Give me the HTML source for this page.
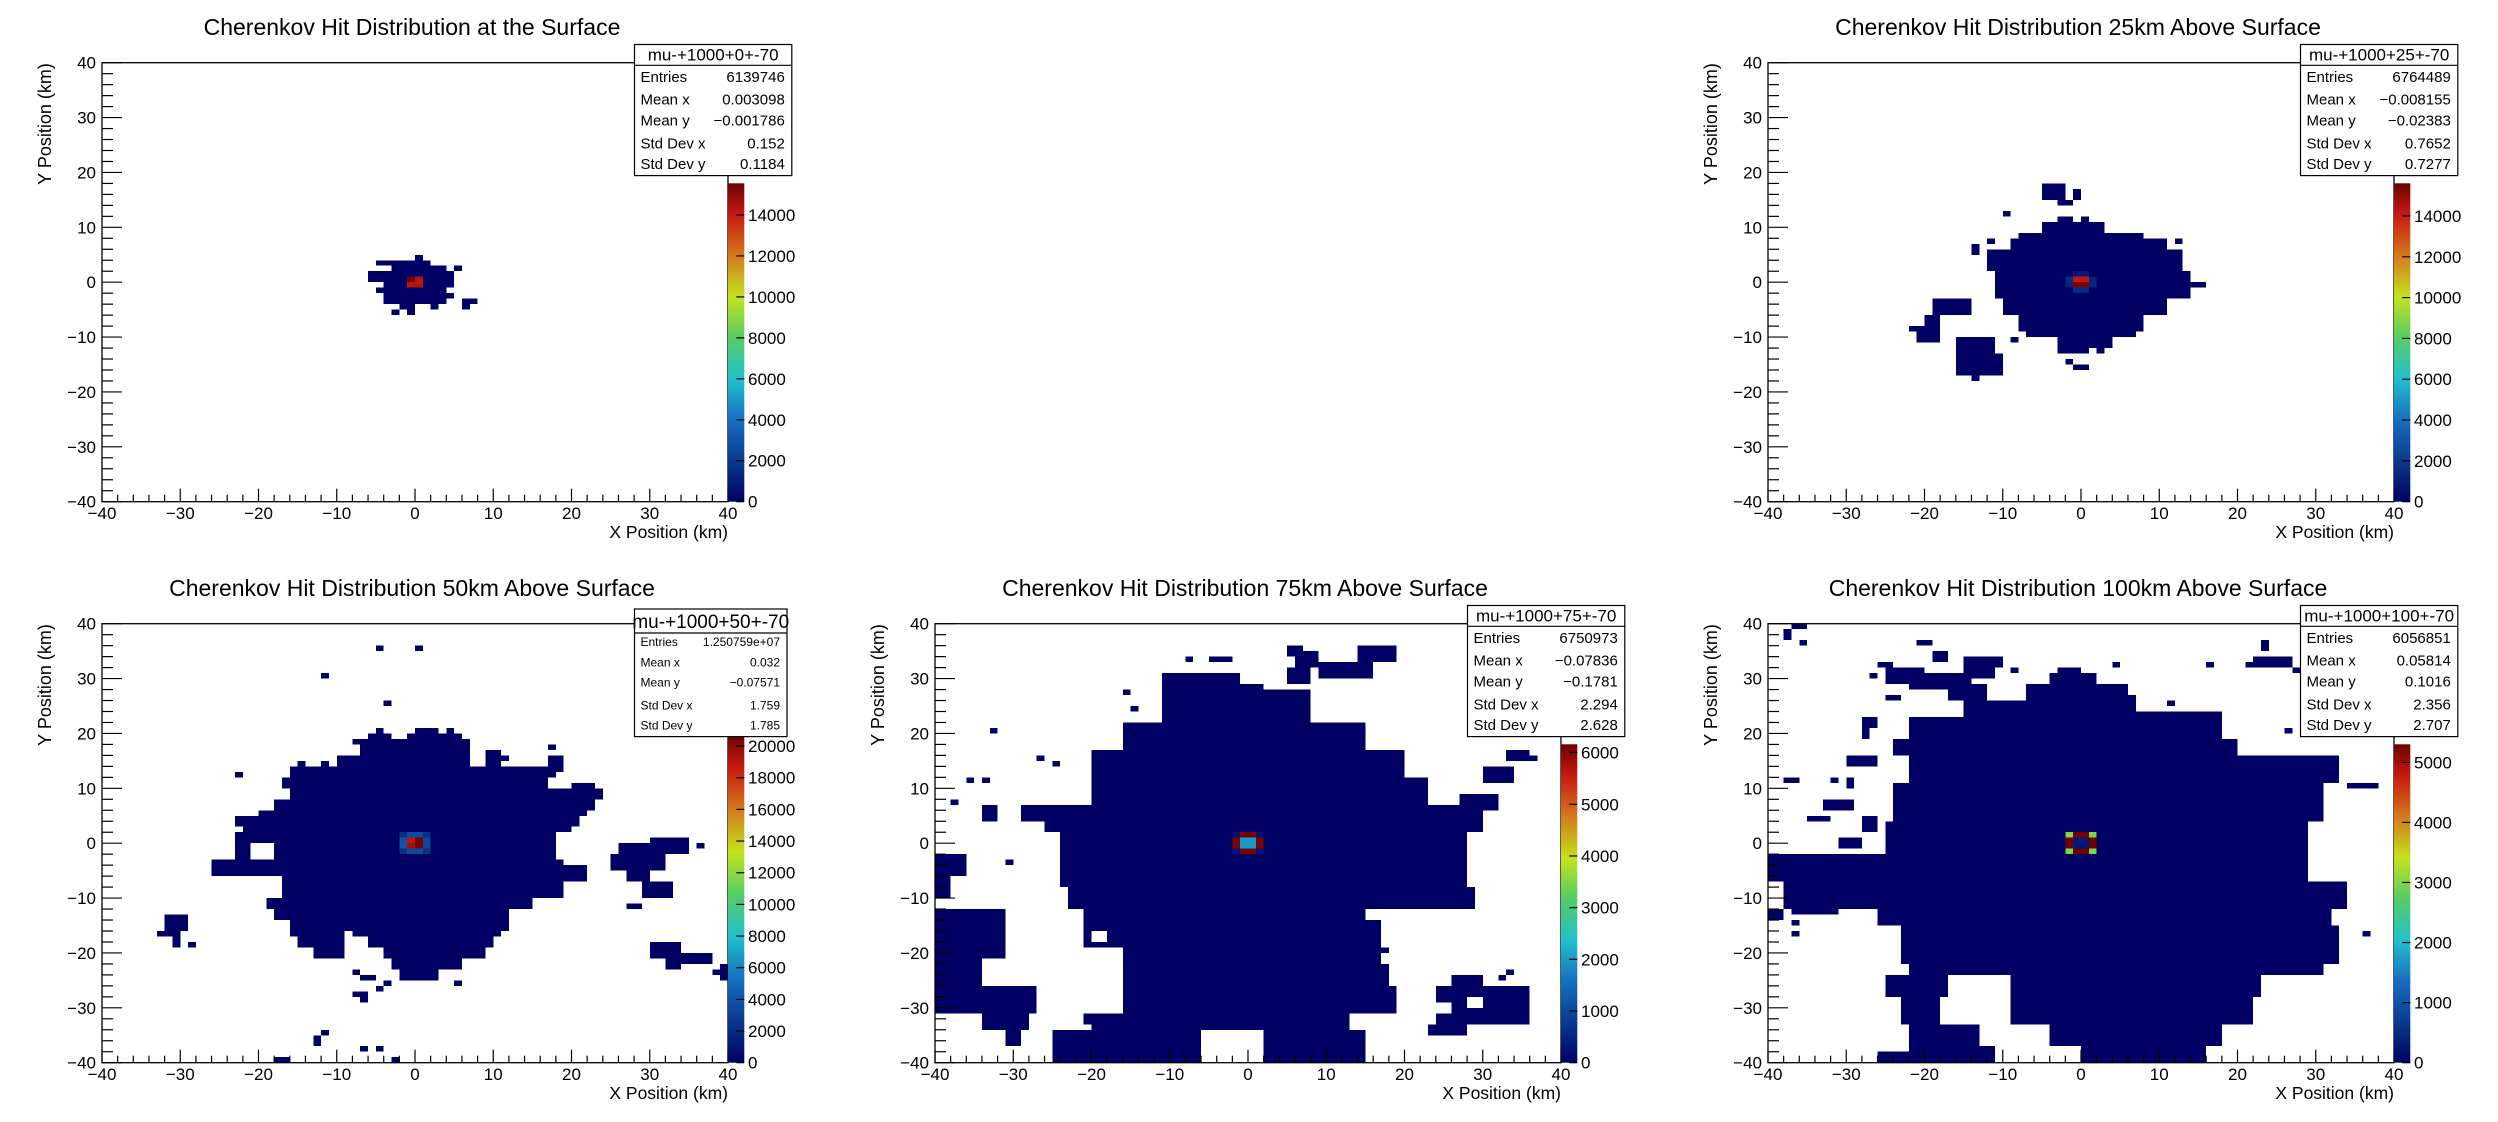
<!DOCTYPE html>
<html><head><meta charset="utf-8"><title>Cherenkov Hit Distributions</title>
<style>
html,body{margin:0;padding:0;background:#fff;}
svg{display:block;font-family:"Liberation Sans",Arial,sans-serif;}
</style></head>
<body>
<svg id="root" width="2498" height="1122" viewBox="0 0 2498 1122" xmlns="http://www.w3.org/2000/svg"></svg>
<script>
// ---------- DATA (bins of 1 km; rects are [x0,x1,y0,y1] in km of low-count bins) ----------
const surfaceRects = [[0,1,4,5],[-5,2,3,4],[-3,4,2,3],[5,6,2,3],[-6,5,0,2],[-4,5,-1,0],[-5,4,-2,-1],[-4,5,-3,-2],[-4,4,-4,-3],[6,8,-4,-3],[-2,0,-5,-4],[2,3,-5,-4],[6,7,-5,-4],[-3,-2,-6,-5],[-1,0,-6,-5]];
const surfaceHot = [[-1,0,15500],[0,0,14300],[-1,-1,14300],[0,-1,14300]];
const surfaceZTicks = [0,2000,4000,6000,8000,10000,12000,14000];
const surfaceZMax = 15546;
const surfaceStats = ["6139746","0.003098","\u22120.001786","0.152","0.1184"];

const km25Rects = [[-8,8,8,9],[-9,11,6,8],[-12,13,2,6],[-11,14,-3,2],[14,16,-1,0],[-10,11,-6,-3],[-8,8,-9,-6],[-7,7,-10,-9],[-3,4,-12,-10],[-3,1,-13,-12],[2,3,-13,-12],[-5,3,9,11],[-3,-1,11,12],[0,1,11,12],[-5,-2,15,18],[-1,0,15,17],[-3,-1,14,15],[-10,-9,12,13],[-14,-13,5,7],[-12,-11,7,8],[12,13,7,8],[-19,-14,-6,-3],[-20,-18,-8,-6],[-21,-18,-11,-8],[-22,-21,-9,-8],[-16,-11,-13,-10],[-16,-10,-17,-13],[-14,-13,-18,-17],[-1,1,-16,-15],[-2,-1,-15,-14],[-9,-8,-11,-10]];
const km25Hot = [[-1,0,14200],[0,0,14200],[-1,-1,15400],[0,-1,15400],[-2,0,1500],[1,0,1200],[-2,-1,1200],[1,-1,1200],[-1,-2,1500],[0,-2,1500],[-1,1,800],[0,1,800]];
const km25ZTicks = [0,2000,4000,6000,8000,10000,12000,14000];
const km25ZMax = 15600;
const km25Stats = ["6764489","\u22120.008155","\u22120.02383","0.7652","0.7277"];

const km50Rects = [[-5,-4,20,21],[0,3,20,21],[4,5,20,21],[-6,-3,19,20],[-1,6,19,20],[-8,7,18,19],[-7,7,16,18],[9,11,16,17],[-10,7,14,16],[9,11,14,16],[10,12,15,16],[17,19,13,16],[-16,18,12,14],[-17,17,10,12],[-16,24,8,10],[20,23,10,11],[-18,23,6,8],[-20,22,5,6],[-23,21,3,5],[-22,20,2,3],[-23,18,0,2],[-23,-21,-3,0],[-18,18,-3,0],[-26,19,-6,-3],[19,22,-7,-4],[-17,19,-10,-6],[-19,15,-12,-10],[-18,12,-14,-12],[-16,12,-16,-14],[-16,-9,-17,-16],[-8,11,-17,-16],[-15,-9,-19,-17],[-6,10,-19,-17],[-13,-9,-21,-19],[-4,9,-21,-19],[-3,6,-23,-21],[-2,3,-25,-23],[-32,-29,-16,-13],[-33,-30,-17,-16],[-31,-30,-19,-17],[-29,-28,-19,-18],[26,35,-2,0],[30,35,0,1],[25,32,-5,-2],[27,30,-7,-5],[29,33,-10,-7],[27,29,-12,-11],[36,37,-1,0],[30,34,-21,-18],[34,38,-22,-20],[32,34,-23,-21],[39,40,-25,-22],[38,39,-24,-23],[-5,-4,35,36],[0,1,35,36],[-12,-11,30,31],[-4,-3,25,26],[-23,-22,12,13],[-15,-14,14,15],[-12,-11,14,15],[17,18,17,18],[-8,-7,-24,-23],[-7,-5,-25,-24],[-4,-3,-26,-25],[-5,-4,-27,-26],[-8,-6,-28,-27],[-7,-6,-29,-28],[5,6,-26,-25],[-12,-11,-35,-34],[-13,-12,-37,-35],[-7,-6,-38,-37],[-5,-4,-38,-37],[-18,-16,-40,-39],[-3,-2,-40,-39]];
const km50Hot = [[-1,0,19000],[0,0,20600],[-1,-1,19500],[0,-1,20600],[-2,0,3800],[1,0,3200],[-2,-1,3800],[1,-1,3200],[-2,1,2200],[-1,1,3500],[0,1,3500],[1,1,2200],[-2,-2,2200],[-1,-2,3500],[0,-2,3500],[1,-2,2200]];
const km50ZTicks = [0,2000,4000,6000,8000,10000,12000,14000,16000,18000,20000];
const km50ZMax = 20700;
const km50Stats = ["1.250759e+07","0.032","\u22120.07571","1.759","1.785"];

const km75Rects = [[5,7,34,36],[6,9,32,35],[9,16,30,33],[14,19,33,36],[5,8,29,32],[-11,-1,23,31],[-8,-7,33,34],[-5,-2,33,34],[-11,2,22,29],[2,8,22,28],[-16,15,17,22],[-20,20,12,17],[-20,23,7,12],[-26,30,2,7],[-24,28,-8,2],[-23,29,-12,-8],[-21,17,-19,-12],[-16,18,-26,-19],[-16,19,-31,-26],[-21,13,-34,-31],[-25,-6,-40,-34],[2,15,-40,-34],[-40,-31,-21,-12],[-40,-34,-26,-21],[-40,-27,-31,-26],[-34,-28,-34,-31],[-31,-29,-37,-34],[24,36,-33,-26],[26,30,-28,-24],[23,28,-35,-33],[30,34,11,14],[33,36,15,17],[27,32,6,9],[-34,-32,4,7],[-29,-26,4,7],[-40,-36,-6,-2],[-40,-38,-10,-6],[-37,-36,-4,-3],[-31,-30,-4,-3],[-33,-32,20,21],[-36,-35,11,12],[-34,-33,11,12],[-38,-37,7,8],[-27,-26,15,16],[-25,-24,14,15],[-16,-15,27,28],[-15,-14,24,25],[36,37,15,16],[32,33,-25,-24],[33,34,-24,-23]];
const km75Holes = [[-1,1,-36,-34],[-5,-3,-40,-38],[-20,-18,-18,-16],[-18,-17,-23,-21],[15,17,-14,-12],[17,19,-22,-20],[24,26,-31,-29],[28,30,-30,-28],[-22,-20,-34,-33]];
const km75Hot = [[-1,-1,2000],[0,-1,2000],[-1,0,2000],[0,0,2000],[-2,-1,6100],[-2,0,6100],[1,-1,6100],[1,0,6100],[-1,1,6100],[0,1,6100],[-1,-2,6100],[0,-2,6100],[-2,1,250],[1,1,250],[-2,-2,250],[1,-2,250]];
const km75ZTicks = [0,1000,2000,3000,4000,5000,6000];
const km75ZMax = 6160;
const km75Stats = ["6750973","\u22120.07836","\u22120.1781","2.294","2.628"];

const km100Rects = [[-3,0,30,32],[-4,2,29,31],[-7,6,27,29],[-7,7,23,27],[-15,-7,23,26],[-17,-12,26,29],[-22,-14,28,31],[-15,-11,30,34],[-25,-20,29,32],[12,18,19,24],[7,13,19,24],[-22,18,19,23],[-24,20,16,19],[-22,33,11,16],[-24,31,4,11],[-25,29,-2,4],[-40,29,-7,-2],[-38,34,-12,-7],[-26,32,-15,-12],[-23,33,-22,-15],[-22,31,-24,-22],[-25,-17,-28,-24],[-9,23,-28,-24],[-23,-18,-33,-28],[-9,22,-33,-28],[-22,-13,-37,-33],[-4,18,-37,-33],[-22,-11,-40,-37],[0,16,-40,-37],[-26,-22,-40,-38],[-30,-26,14,16],[-38,-36,11,12],[-32,-31,11,12],[-30,-29,10,12],[-33,-29,6,8],[-35,-32,4,5],[-28,-26,2,5],[-31,-28,-1,1],[-40,-36,-5,-2],[-37,-35,39,40],[-38,-37,37,39],[-36,-35,36,37],[-21,-19,36,37],[-19,-17,33,35],[-26,-24,32,33],[-27,-26,30,31],[-25,-23,26,27],[-28,-26,21,23],[-28,-27,19,21],[-11,-10,32,34],[-9,-8,31,32],[23,24,35,37],[22,27,32,34],[21,24,32,33],[27,28,31,32],[16,17,32,33],[4,5,32,33],[11,12,25,26],[26,27,20,21],[34,38,10,11],[-40,-38,-14,-12],[-37,-31,-13,-12],[-37,-36,-15,-14],[-37,-36,-17,-16],[36,37,-17,-16]];
const km100Hot = [[-2,1,3000],[1,1,3000],[-2,-2,3000],[1,-2,3000],[-1,1,5300],[0,1,5300],[-2,0,5300],[-2,-1,5300],[1,0,5300],[1,-1,5300],[-1,-2,5300],[0,-2,5300],[-1,0,300],[0,0,300],[-1,-1,300],[0,-1,300]];
const km100ZTicks = [0,1000,2000,3000,4000,5000];
const km100ZMax = 5300;
const km100Stats = ["6056851","0.05814","0.1016","2.356","2.707"];

const axisTicks = [-40,-30,-20,-10,0,10,20,30,40];
const statLabels = ["Entries","Mean x","Mean y","Std Dev x","Std Dev y"];

// ---------- RENDERING ----------
const NS = "http://www.w3.org/2000/svg";
const root = document.getElementById('root');
const FX0 = 102, FX1 = 728, FY0 = 62.7, FY1 = 501.7, CBX1 = 744.3, CBY0 = 183.3;
function xs(k){ return FX0 + (k + 40) / 80 * (FX1 - FX0); }
function ys(k){ return FY1 - (k + 40) / 80 * (FY1 - FY0); }
const stops = [[0,[0,0,100]],[0.129,[10,58,143]],[0.257,[21,112,192]],[0.386,[34,192,204]],[0.515,[85,204,102]],[0.643,[196,227,28]],[0.772,[212,122,28]],[0.9,[200,26,16]],[1,[110,0,0]]];
function color(t){
  t = Math.max(0, Math.min(1, t));
  for (let i = 1; i < stops.length; i++) {
    if (t <= stops[i][0]) {
      const a = stops[i-1], b = stops[i], f = (t - a[0]) / (b[0] - a[0]);
      const c = a[1].map((v, j) => Math.round(v + (b[1][j] - v) * f));
      return 'rgb(' + c.join(',') + ')';
    }
  }
  return 'rgb(110,0,0)';
}
function mk(tag, attrs, parent){
  const e = document.createElementNS(NS, tag);
  for (const k in attrs) e.setAttribute(k, attrs[k]);
  parent.appendChild(e);
  return e;
}
function txt(parent, x, y, s, size, anchor, extra){
  const t = mk('text', Object.assign({x:x, y:y, 'font-size':size, 'text-anchor':anchor||'start', fill:'#000'}, extra||{}), parent);
  t.textContent = s;
  return t;
}

function drawPanel(ox, oy, key, title, rects, hot, zTicks, zMax, stats, small, holes){
  const g = mk('g', {transform:'translate(' + ox + ',' + oy + ')'}, root);
  
  

  const tt = txt(g, 412, 35, title, 23, 'middle');
  
  

  const cells = mk('g', {'shape-rendering':'crispEdges'}, g);
  
  
  const low = color(0);
  rects.forEach(r => {
    const c = mk('rect', {x:xs(r[0]), y:ys(r[3]), width:xs(r[1]) - xs(r[0]), height:ys(r[2]) - ys(r[3]), fill:low}, cells);
    
    
  });
  (holes || []).forEach(r => {
    const c = mk('rect', {x:xs(r[0]), y:ys(r[3]), width:xs(r[1]) - xs(r[0]), height:ys(r[2]) - ys(r[3]), fill:'#fff'}, cells);
    
    
  });
  hot.forEach(h => {
    const c = mk('rect', {x:xs(h[0]), y:ys(h[1] + 1), width:xs(h[0] + 1) - xs(h[0]), height:ys(h[1]) - ys(h[1] + 1), fill:color(h[2] / zMax)}, cells);
    
    
  });

  const fr = mk('rect', {x:FX0, y:FY0, width:FX1 - FX0, height:FY1 - FY0, fill:'none', stroke:'#000', 'stroke-width':1.3}, g);
  
  

  const ax = mk('g', {stroke:'#000', 'stroke-width':1.2}, g);
  
  
  for (let k = -40; k <= 40; k += 2) {
    const major = (k % 10 === 0);
    mk('line', {x1:xs(k), x2:xs(k), y1:FY1, y2:FY1 - (major ? 13 : 7)}, ax);
    mk('line', {x1:FX0, x2:FX0 + (major ? 20 : 11), y1:ys(k), y2:ys(k)}, ax);
  }
  axisTicks.forEach(v => {
    const s = (v < 0 ? '\u2212' + (-v) : String(v));
    const a = txt(g, xs(v), 519, s, 17, 'middle');
    
    
    const b = txt(g, 96, ys(v) + 6, s, 17, 'end');
    
    
  });
  const xt = txt(g, FX1, 538, 'X Position (km)', 17.5, 'end');
  
  
  const yt = txt(g, 0, 0, 'Y Position (km)', 18, 'middle', {transform:'translate(51,124) rotate(-90)'});
  
  

  const cbTop = small ? 174 : CBY0;
  const defs = mk('defs', {}, g);
  const lg = mk('linearGradient', {id:'grad-' + key, x1:0, y1:1, x2:0, y2:0}, defs);
  stops.forEach(s => mk('stop', {offset:s[0], 'stop-color':'rgb(' + s[1].join(',') + ')'}, lg));
  const cb = mk('rect', {x:FX1, y:cbTop, width:CBX1 - FX1, height:FY1 - cbTop, fill:'url(#grad-' + key + ')'}, g);
  
  
  const zy = v => FY1 - v / zMax * (FY1 - cbTop);
  zTicks.forEach(v => {
    mk('line', {x1:CBX1, x2:CBX1 - 8, y1:zy(v), y2:zy(v), stroke:'#000', 'stroke-width':1.2}, g);
    const l = txt(g, 748, zy(v) + 6, String(v), 17, 'start');
    
    
  });

  const sb = mk('g', {}, g);
  
  
  const bx0 = 634.5, bx1 = small ? 787 : 791.8, by0 = small ? 48 : 44.5, by1 = 175.6, hl = small ? 72 : 65.3;
  mk('rect', {x:bx0, y:by0, width:bx1 - bx0, height:by1 - by0, fill:'#fff', stroke:'#000', 'stroke-width':1.2}, sb);
  mk('line', {x1:bx0, x2:bx1, y1:hl, y2:hl, stroke:'#000', 'stroke-width':1.2}, sb);
  txt(sb, (bx0 + bx1) / 2, hl - 5, 'mu-+1000+' + key.replace('km', '').replace('surface', '0') + '+-70', small ? 19 : 17, 'middle');
  const rowsY = small ? [80.7,101.3,121.3,144,164] : [76.6,99.1,120.3,142.9,163.6];
  const fs = small ? 12 : 15;
  statLabels.forEach((lab, i) => {
    txt(sb, bx0 + 6, rowsY[i] + fs * 0.36, lab, fs, 'start');
    txt(sb, bx1 - 7, rowsY[i] + fs * 0.36, stats[i], fs, 'end');
  });
}

drawPanel(0, 0, 'surface', 'Cherenkov Hit Distribution at the Surface', surfaceRects, surfaceHot, surfaceZTicks, surfaceZMax, surfaceStats, false);
drawPanel(1666, 0, 'km25', 'Cherenkov Hit Distribution 25km Above Surface', km25Rects, km25Hot, km25ZTicks, km25ZMax, km25Stats, false);
drawPanel(0, 561, 'km50', 'Cherenkov Hit Distribution 50km Above Surface', km50Rects, km50Hot, km50ZTicks, km50ZMax, km50Stats, true);
drawPanel(833, 561, 'km75', 'Cherenkov Hit Distribution 75km Above Surface', km75Rects, km75Hot, km75ZTicks, km75ZMax, km75Stats, false, km75Holes);
drawPanel(1666, 561, 'km100', 'Cherenkov Hit Distribution 100km Above Surface', km100Rects, km100Hot, km100ZTicks, km100ZMax, km100Stats, false);
</script>
</body></html>
